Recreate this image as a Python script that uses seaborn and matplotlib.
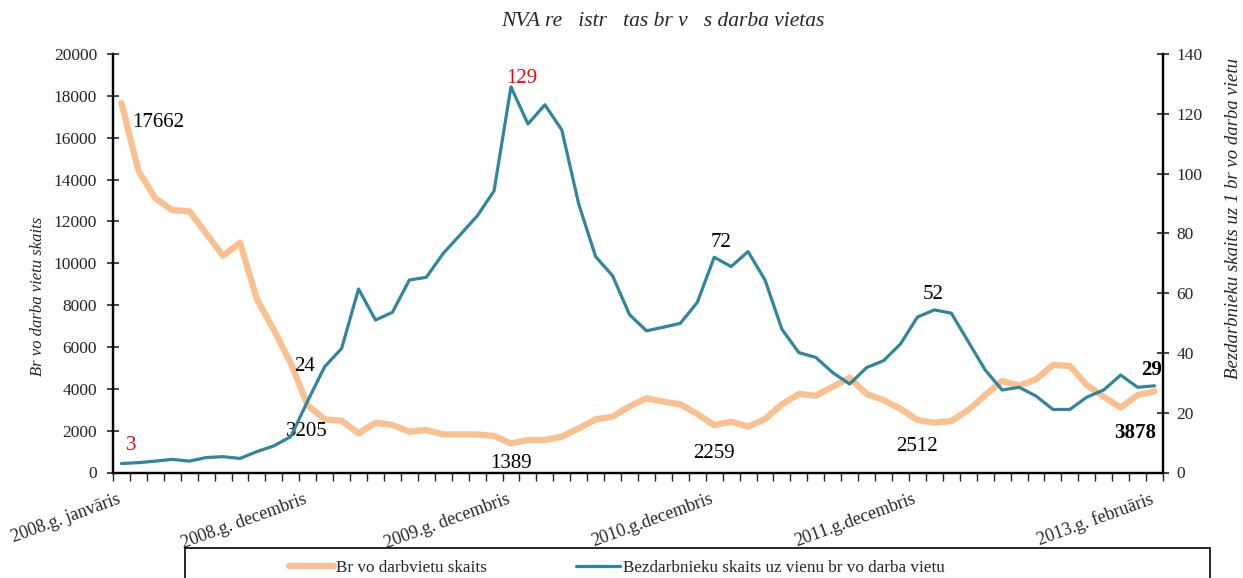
import numpy as np
import matplotlib
matplotlib.use("Agg")
import matplotlib.pyplot as plt
from matplotlib.patches import Rectangle
from matplotlib.ticker import FixedLocator
from matplotlib.transforms import ScaledTranslation
import seaborn as sns
import pandas as pd

# monthly data, 2008 Jan .. 2013 Feb
vacancies = [17662, 14420, 13100, 12540, 12490, 11430, 10360, 10980, 8280, 6810, 5220, 3205,
             2540, 2475, 1870, 2375, 2270, 1950, 2030, 1820, 1820, 1820, 1745, 1389,
             1550, 1550, 1710, 2110, 2540, 2670, 3160, 3545, 3385, 3260, 2795, 2259,
             2430, 2190, 2555, 3260, 3750, 3670, 4100, 4530, 3750, 3460, 3040, 2512,
             2380, 2460, 2985, 3700, 4370, 4150, 4450, 5140, 5090, 4180, 3620, 3100, 3700, 3878]
ratio = [3, 3.3, 3.8, 4.4, 3.8, 5.0, 5.3, 4.7, 7.0, 8.9, 12.0, 24,
         35.4, 41.5, 61.4, 51.0, 53.6, 64.4, 65.3, 73.3, 79.5, 85.8, 94.2, 129,
         116.6, 123, 114.6, 89.8, 72.2, 65.8, 52.8, 47.4, 48.6, 49.9, 56.9, 72,
         68.9, 73.9, 64.4, 47.9, 40.1, 38.5, 33.4, 29.6, 35.1, 37.4, 43.0, 52,
         54.4, 53.3, 43.8, 34.3, 27.6, 28.5, 25.6, 21.1, 21.1, 25.2, 27.6, 32.6, 28.5, 29]
tick_pos = [0, 11, 23, 35, 47, 61]
tick_labels = ["2008.g. janvāris", "2008.g. decembris", "2009.g. decembris",
               "2010.g.decembris", "2011.g.decembris", "2013.g. februāris"]

title = "NVA re   istr   tas br v   s darba vietas"
label_vac = "Br vo darbvietu skaits"
label_ratio = "Bezdarbnieku skaits uz vienu br vo darba vietu"
ylabel_left = "Br vo darba vietu skaits"
ylabel_right = "Bezdarbnieku skaits uz 1 br vo darba vietu"

ORANGE = "#FAC08F"
TEAL = "#31859C"

sns.set_style("white")
plt.rcParams["font.family"] = ["Liberation Serif", "DejaVu Serif"]

df = pd.DataFrame({"month": range(len(vacancies)), "vac": vacancies, "ratio": ratio})

fig = plt.figure(figsize=(12.43, 5.78), dpi=100)
ax = fig.add_axes([113/1243, 1-472.5/578, 1050/1243, 418.5/578])
sns.lineplot(data=df, x="month", y="vac", ax=ax, color=ORANGE, lw=4.5,
             solid_capstyle="round", label=label_vac)
ax2 = ax.twinx()
sns.lineplot(data=df, x="month", y="ratio", ax=ax2, color=TEAL, lw=2.3, label=label_ratio)
ax.get_legend().remove(); ax2.get_legend().remove()

ax.set_xlim(-0.5, len(vacancies) - 0.5)
ax.set_ylim(0, 20000); ax2.set_ylim(0, 140)
ax.set_yticks(range(0, 20001, 2000)); ax2.set_yticks(range(0, 141, 20))
ax.set_xticks(tick_pos); ax.set_xticklabels(tick_labels)
ax.xaxis.set_minor_locator(FixedLocator(np.arange(-0.5, len(vacancies), 1)))
ax.set_xlabel(""); ax2.set_xlabel(""); ax.set_ylabel(""); ax2.set_ylabel("")

for a in (ax, ax2):
    a.spines["top"].set_visible(False)
    for s in ("left", "right", "bottom"):
        a.spines[s].set_color("black"); a.spines[s].set_linewidth(1.6)
    a.grid(False)
ax.tick_params(axis="y", direction="inout", length=9, width=1.2, labelsize=12.5, pad=7, left=True)
ax2.tick_params(axis="y", direction="inout", length=9, width=1.2, labelsize=12.5, pad=5, right=True)
ax.tick_params(axis="x", which="major", length=0, labelsize=13, pad=13)
ax.tick_params(axis="x", which="minor", direction="out", length=6, width=1, bottom=True)
shift = ScaledTranslation(-5/100, 0, fig.dpi_scale_trans)
for lbl in ax.get_xticklabels():
    lbl.set_rotation(20); lbl.set_ha("right"); lbl.set_rotation_mode("anchor")
    lbl.set_transform(lbl.get_transform() + shift)

fig.text(38/1243, 1-296/578, ylabel_left, rotation=90, ha="center", va="center",
         style="italic", fontsize=12)
fig.text(1234/1243, 1-219/578, ylabel_right, rotation=90, ha="center", va="center",
         style="italic", fontsize=13.5)

fig.text(663/1243, 1-22/578, title, ha="center", va="center", style="italic", fontsize=15.5)

# point annotations: (axis, index, text, offset pts, colour, weight, ha)
notes = [
    (ax, 0, "17662", (7.5, -14), "black", "normal", "left"),
    (ax2, 0, "3", (7, 13), "red", "normal", "center"),
    (ax2, 11, "24", (-2.5, 24.5), "black", "normal", "center"),
    (ax, 11, "3205", (-1, -18.5), "black", "normal", "center"),
    (ax2, 23, "129", (8, 5.8), "red", "normal", "center"),
    (ax, 23, "1389", (0, -14.3), "black", "normal", "center"),
    (ax2, 35, "72", (4.6, 10.8), "black", "normal", "center"),
    (ax, 35, "2259", (0, -20), "black", "normal", "center"),
    (ax2, 47, "52", (11.2, 15.9), "black", "normal", "center"),
    (ax, 47, "2512", (0, -19.3), "black", "normal", "center"),
    (ax2, 61, "29", (-2.2, 11.4), "black", "bold", "center"),
    (ax, 61, "3878", (-13.9, -30.2), "black", "bold", "center"),
]
for a, i, txt, off, col, wt, ha in notes:
    yv = vacancies[i] if a is ax else ratio[i]
    a.annotate(txt, xy=(i, yv), xytext=off, textcoords="offset points",
               ha=ha, va="center", fontsize=15, color=col, fontweight=wt)

h1, l1 = ax.get_legend_handles_labels()
h2, l2 = ax2.get_legend_handles_labels()
fig.legend(h1 + h2, [label_vac, label_ratio], loc="center",
           bbox_to_anchor=(617/1243, 1-568/578), ncol=2, frameon=False, fontsize=12.3,
           handlelength=2.6, handletextpad=0.15, columnspacing=5.2)
fig.patches.append(Rectangle((185/1243, -0.1), 1025/1243, 0.1 + 1-548/578,
                             transform=fig.transFigure, fill=False, ec="black", lw=1.2))

fig.savefig("out.png", dpi=100)
